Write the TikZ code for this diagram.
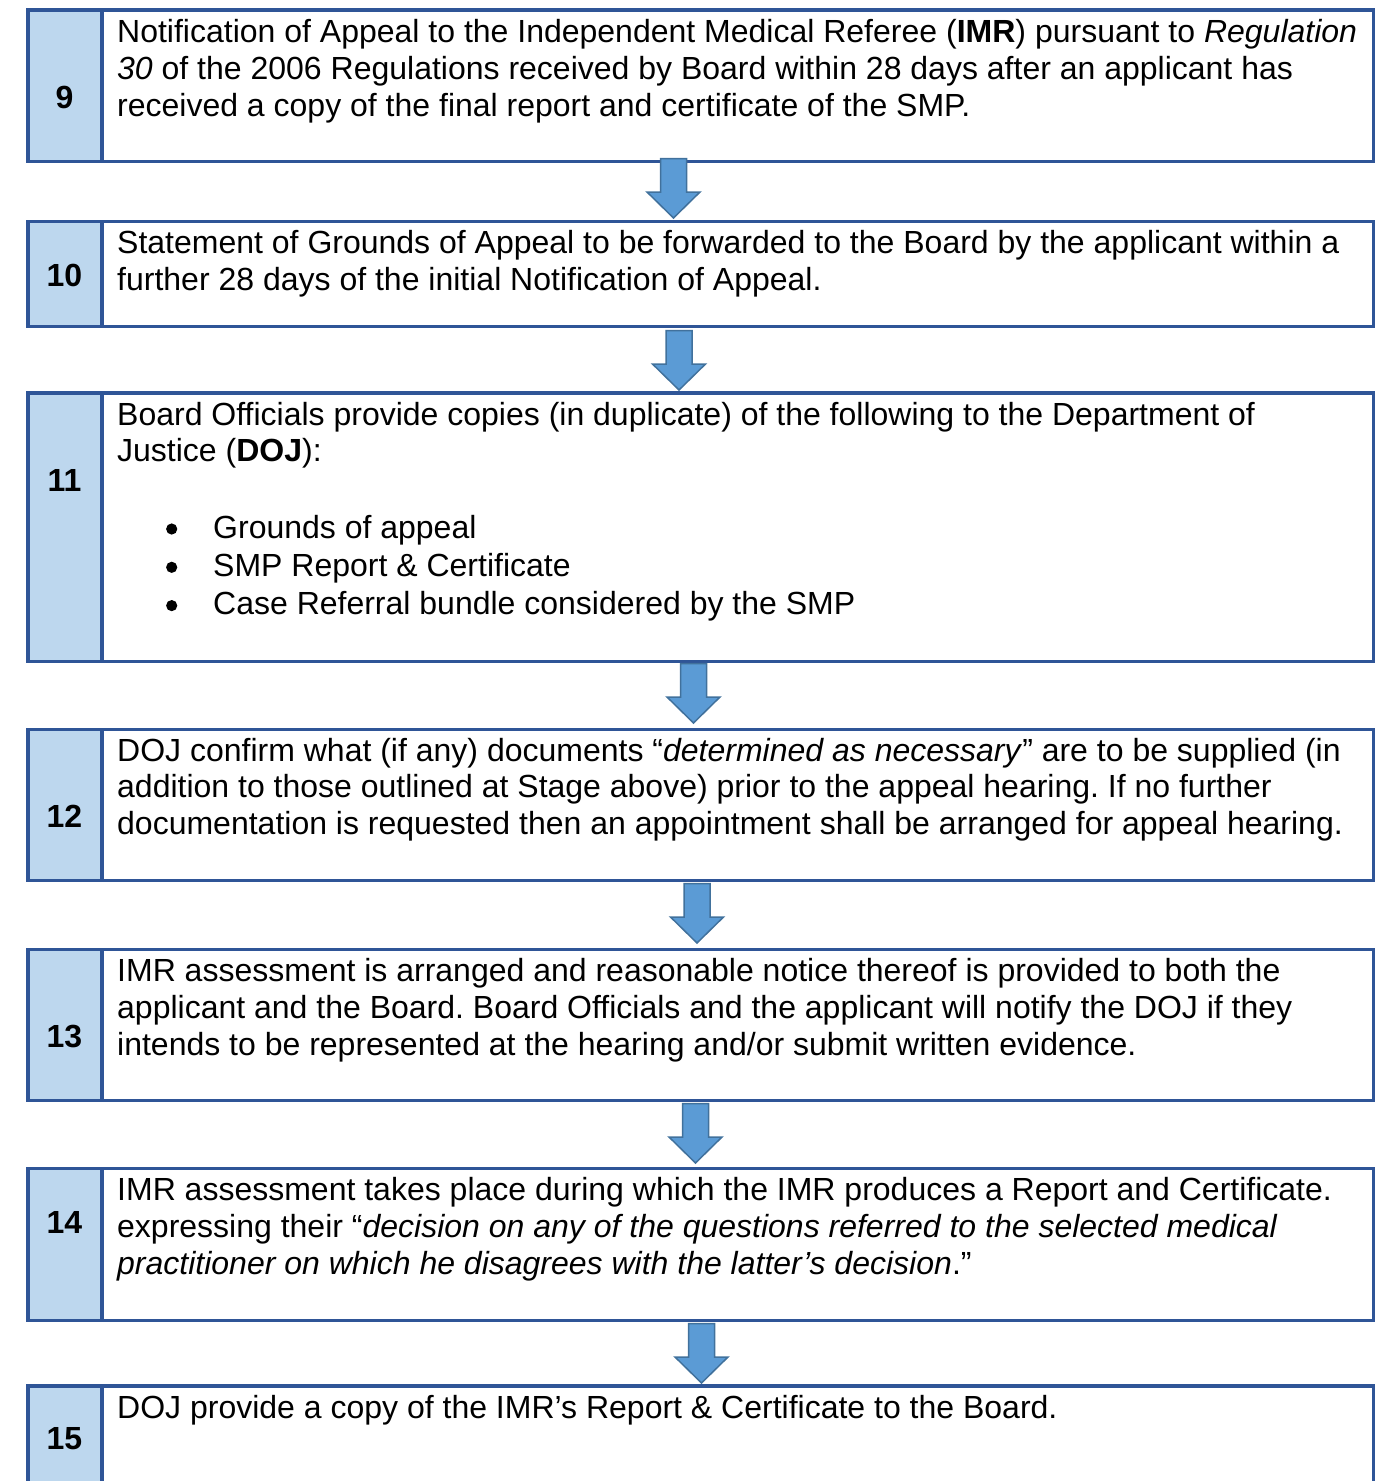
\documentclass[tikz,border=0pt]{standalone}
\usepackage{fontspec}
\setmainfont{Liberation Sans}
\frenchspacing
\definecolor{boxline}{HTML}{2F5597}
\definecolor{numfill}{HTML}{BDD7EE}
\definecolor{arrfill}{HTML}{5B9BD5}
\definecolor{arrline}{HTML}{41719C}
\newcommand\stagebox[3]{%
  \fill[numcell] (28,#2) rectangle (102,#3);
  \draw[boxframe] (28,#2) rectangle (1373.5,#3);
  \draw[boxframe] (102,#2) -- (102,#3);
  \coordinate (#1) at (28,#2);}
\newcommand\firstline{\rule{0pt}{24pt}}
\begin{document}
\begin{tikzpicture}[x=1pt,y=-1pt,
  boxframe/.style={draw=boxline,line width=3.5pt},
  numcell/.style={fill=numfill},
  numlabel/.style={font=\fontsize{32}{36}\selectfont\bfseries,anchor=center,inner sep=0pt},
  body/.style={font=\fontsize{32}{36.7}\selectfont\frenchspacing,align=left,anchor=north west,inner sep=0pt},
  bullets/.style={font=\fontsize{32}{38.3}\selectfont,align=left,anchor=north west,inner sep=0pt},
  bulletdot/.style={fill=black},
  blockarrow/.style={fill=arrfill,draw=arrline,line width=1.5pt,line join=miter},
  pics/downarrow/.style={code={
    \draw[blockarrow] (-13,0) -- (13,0) -- (13,33.5) -- (26.5,33.5) -- (0,59.5)
      -- (-26.5,33.5) -- (-13,33.5) -- cycle;}}
]
\useasboundingbox (0,0) rectangle (1386,1481);

% stage boxes
\stagebox{s9}{10}{161.5}
\stagebox{s10}{221.5}{326.5}
\stagebox{s11}{393}{661.5}
\stagebox{s12}{729.5}{880.5}
\stagebox{s13}{949.5}{1100.5}
\stagebox{s14}{1168.5}{1320.5}
\stagebox{s15}{1386}{1500}

% arrows between stages
\coordinate (a1) at (673.5,158.5);
\coordinate (a2) at (679,330.5);
\coordinate (a3) at (693.5,663.5);
\coordinate (a4) at (697,883.5);
\coordinate (a5) at (695.5,1103.5);
\coordinate (a6) at (701.5,1323.5);
\foreach \a in {a1,a2,a3,a4,a5,a6} \pic at (\a) {downarrow};

% stage numbers
\node[numlabel] (n9)  at (64.5,97.5)  {9};
\node[numlabel] (n10) at (64.5,275)   {10};
\node[numlabel] (n11) at (64.5,480)   {11};
\node[numlabel] (n12) at (64.5,816.5) {12};
\node[numlabel] (n13) at (64.5,1036)  {13};
\node[numlabel] (n14) at (64.5,1222)  {14};
\node[numlabel] (n15) at (64.5,1438.5){15};

% stage texts
\node[body] (t9) at (117,18.5) {\firstline Notification of Appeal to the Independent Medical Referee (\textbf{IMR}) pursuant to \textit{Regulation}\\
\textit{30} of the 2006 Regulations received by Board within 28 days after an applicant has\\
received a copy of the final report and certificate of the SMP.};

\node[body] (t10) at (117,229.5) {\firstline Statement of Grounds of Appeal to be forwarded to the Board by the applicant within a\\
further 28 days of the initial Notification of Appeal.};

\node[body] (t11) at (117,401) {\firstline Board Officials provide copies (in duplicate) of the following to the Department of\\
Justice (\textbf{DOJ}):};
\node[bullets] (t11b) at (213,514) {\firstline Grounds of appeal\\
SMP Report \& Certificate\\
Case Referral bundle considered by the SMP};
\foreach \y in {529,567.3,605.6} \fill[bulletdot] (171.7,\y) circle (5.6);

\node[body] (t12) at (117,737) {\firstline DOJ confirm what (if any) documents “\textit{determined as necessary}” are to be supplied (in\\
addition to those outlined at Stage above) prior to the appeal hearing. If no further\\
documentation is requested then an appointment shall be arranged for appeal hearing.};

\node[body] (t13) at (117,957.5) {\firstline IMR assessment is arranged and reasonable notice thereof is provided to both the\\
applicant and the Board. Board Officials and the applicant will notify the DOJ if they\\
intends to be represented at the hearing and/or submit written evidence.};

\node[body] (t14) at (117,1176.5) {\firstline IMR assessment takes place during which the IMR produces a Report and Certificate.\\
expressing their “\textit{decision on any of the questions referred to the selected medical}\\
\textit{practitioner on which he disagrees with the latter’s decision}.”};

\node[body] (t15) at (117,1394.5) {\firstline DOJ provide a copy of the IMR’s Report \& Certificate to the Board.};
\end{tikzpicture}
\end{document}
